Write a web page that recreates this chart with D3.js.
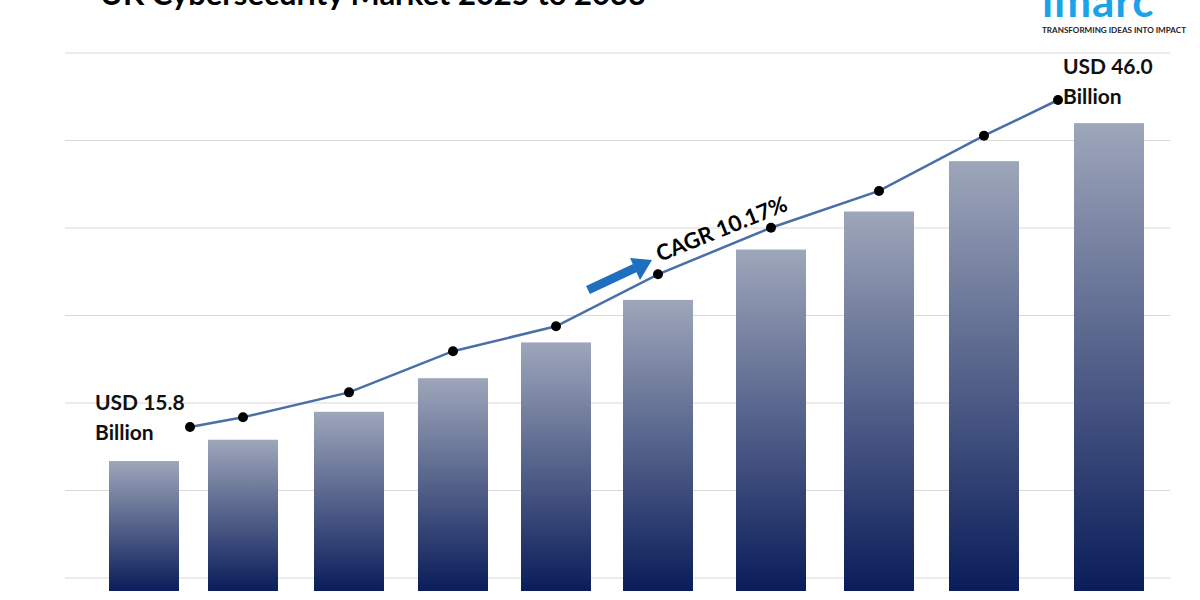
<!DOCTYPE html><html><head><meta charset="utf-8">
<script src="https://cdn.jsdelivr.net/npm/d3@7"></script>
<style>body{margin:0;background:#fff}svg{display:block;font-family:Lato,sans-serif}</style></head><body>
<svg id="c" width="1200" height="600"></svg>
<script>
const years=["2024","2025","2026","2027","2028","2029","2030","2031","2032","2033"];
const barValues=[15.8,17.7,20.2,23.2,26.4,30.2,34.7,38.1,42.6,46.0];
const lineValues=[15.8,16.7,19.0,22.8,25.1,29.9,34.2,37.6,42.7,46.0];
const gridTicks=[0,1,2,3,4,5,6];
const svg=d3.select("#c");
const defs=svg.append("defs");
const g=defs.append("linearGradient").attr("id","bg").attr("x1",0).attr("y1",0).attr("x2",0).attr("y2",1);
g.append("stop").attr("offset","0%").attr("stop-color","#9ea6ba");
g.append("stop").attr("offset","100%").attr("stop-color","#0a1d5a");
const centers=[144,243,349,453,556,658,771,879,984,1109];
const y=d3.scaleLinear().domain([4.18,52]).range([591,56]);
const yl=d3.scaleLinear().domain([15.8,46]).range([427,100]);
const gy=d3.scaleLinear().domain([0,6]).range([578,53]);
svg.selectAll(".grid").data(gridTicks).join("line").attr("x1",65).attr("x2",1170)
 .attr("y1",d=>gy(d)).attr("y2",d=>gy(d)).attr("stroke","#d9d9d9").attr("stroke-width",1);
const bx=(d,i)=>centers[i];
svg.selectAll(".bar").data(barValues).join("rect").attr("x",(d,i)=>bx(d,i)-35).attr("width",70)
 .attr("y",d=>y(d)).attr("height",d=>591-y(d)).attr("fill","url(#bg)");
const lx=(d,i)=>i===0?bx(d,i)+46:(i===9?bx(d,i)-51:bx(d,i));
svg.append("path").datum(lineValues).attr("fill","none").attr("stroke","#4a6fa8").attr("stroke-width",2.5)
 .attr("d",d3.line().x(lx).y(d=>yl(d)));
svg.selectAll(".dot").data(lineValues).join("circle").attr("cx",lx).attr("cy",d=>yl(d)).attr("r",5).attr("fill","#000");
svg.append("text").attr("x",100).attr("y",5).attr("font-size",31).attr("font-weight","bold").text("UK Cybersecurity Market 2025 to 2033");
const lab=(t1,t2,xx,yy)=>{const t=svg.append("text").attr("font-size",21).attr("font-weight","bold").attr("fill","#111");
 t.append("tspan").attr("x",xx).attr("y",yy).text(t1);t.append("tspan").attr("x",xx).attr("y",yy+30).text(t2);};
lab("USD 15.8","Billion",95,410);
lab("USD 46.0","Billion",1063,74);
svg.append("line").attr("x1",588).attr("y1",290).attr("x2",635).attr("y2",268).attr("stroke","#1f6fc0").attr("stroke-width",9);
svg.append("path").attr("d","M630,258 L652,260 L640,280 Z").attr("fill","#1f6fc0");
svg.append("text").attr("transform","translate(660,262) rotate(-22)").attr("font-size",22).attr("font-weight","bold").text("CAGR 10.17%");
svg.append("text").attr("x",1042).attr("y",17).attr("font-size",44).attr("font-weight","bold").attr("fill","#1aa3e8").attr("letter-spacing",1).text("imarc");
svg.append("text").attr("x",1042).attr("y",33).attr("font-size",8).attr("font-weight","bold").attr("fill","#222")
 .attr("textLength",144).attr("lengthAdjust","spacingAndGlyphs").text("TRANSFORMING IDEAS INTO IMPACT");
</script></body></html>
